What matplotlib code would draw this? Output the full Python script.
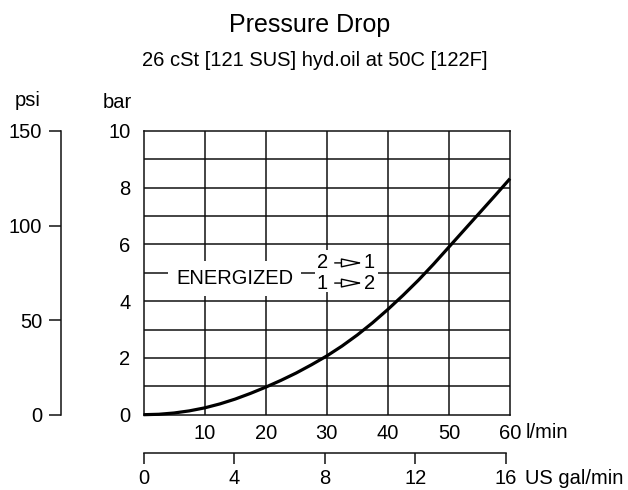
import numpy as np
import matplotlib.pyplot as plt

plt.rcParams['font.family'] = ['Liberation Sans', 'DejaVu Sans']

# curve: flow (l/min) vs pressure drop (bar)
flow_lpm = [0, 2.5, 5, 7.5, 10, 12.5, 15, 17.5, 20, 22.5, 25, 27.5, 30,
            32.5, 35, 37.5, 40, 42.5, 45, 47.5, 50, 52.5, 55, 57.5, 60]
dp_bar = [0, 0.015, 0.06, 0.135, 0.24, 0.38, 0.55, 0.75, 0.97, 1.21, 1.47, 1.76, 2.07,
          2.42, 2.81, 3.24, 3.71, 4.21, 4.74, 5.31, 5.91, 6.51, 7.11, 7.71, 8.32]

bar_ticks = [0, 2, 4, 6, 8, 10]
lpm_ticks = [10, 20, 30, 40, 50, 60]
psi_ticks = [0, 50, 100, 150]
gal_ticks = [0, 4, 8, 12, 16]

W, H = 628, 490
fs = 14.5
lw_grid = 1.1
col = '#111111'


def px_rect(x0, y0, x1, y1):
    # pixel box (top-left origin) -> figure fraction [l, b, w, h]
    return [x0 / W, 1 - y1 / H, (x1 - x0) / W, (y1 - y0) / H]


fig = plt.figure(figsize=(W / 100, H / 100), dpi=100)

# main bar / l/min chart
ax = fig.add_axes(px_rect(143.5, 131, 510, 414.7))
ax.set_xlim(0, 60)
ax.set_ylim(0, 10)
for y in range(1, 10):
    ax.axhline(y, color=col, lw=lw_grid, zorder=1)
for x in lpm_ticks[:-1]:
    ax.axvline(x, color=col, lw=lw_grid, zorder=1)
for s in ax.spines.values():
    s.set_linewidth(lw_grid)
    s.set_color(col)
ax.plot(flow_lpm, dp_bar, color='black', lw=2.3, zorder=4, clip_on=False,
        solid_capstyle='butt')
ax.set_yticks(bar_ticks)
ax.set_xticks(lpm_ticks)
ax.tick_params(axis='y', length=0, pad=9.5, labelsize=fs)
ax.tick_params(axis='x', length=0, pad=7, labelsize=fs)
fig.text(526 / W, 1 - 432 / H, 'l/min', fontsize=fs, ha='left', va='center')
fig.text(117 / W, 1 - 102 / H, 'bar', fontsize=fs, ha='center', va='center')

ax.text(14.9, 4.8, 'ENERGIZED', fontsize=fs, ha='center', va='center',
        bbox=dict(facecolor='white', edgecolor='none', pad=6), zorder=3)
ax.add_patch(plt.Rectangle((28.1, 4.32), 10.3, 1.5, facecolor='white',
                           edgecolor='none', zorder=2))
arrow = dict(arrowstyle='-|>,head_length=1.3,head_width=0.28', fc='white',
             ec='black', lw=1.0, shrinkA=0, shrinkB=0)
for y, a, b in [(5.35, '2', '1'), (4.64, '1', '2')]:
    ax.text(29.3, y, a, fontsize=fs, ha='center', va='center', zorder=3)
    ax.text(37.0, y, b, fontsize=fs, ha='center', va='center', zorder=3)
    ax.annotate('', xy=(35.9, y), xytext=(31.3, y), arrowprops=arrow, zorder=3)

# psi axis
ax2 = fig.add_axes(px_rect(61, 131, 62, 414.7))
ax2.set_ylim(0, 10 * 14.504)
ax2.set_xticks([])
for k in ['top', 'right', 'bottom']:
    ax2.spines[k].set_visible(False)
ax2.spines['left'].set_bounds(0, 150)
ax2.spines['left'].set_linewidth(lw_grid)
ax2.spines['left'].set_color(col)
ax2.set_yticks(psi_ticks)
ax2.tick_params(axis='y', direction='out', length=8.6, width=lw_grid,
                color=col, pad=5, labelsize=fs)
ax2.patch.set_visible(False)
fig.text(28 / W, 1 - 100 / H, 'psi', fontsize=fs, ha='center', va='center')

# US gal/min axis
ax3 = fig.add_axes(px_rect(143.5, 440, 505.7, 453))
ax3.set_xlim(0, 16)
ax3.set_yticks([])
for k in ['top', 'right', 'left']:
    ax3.spines[k].set_visible(False)
ax3.spines['bottom'].set_linewidth(lw_grid)
ax3.spines['bottom'].set_color(col)
ax3.set_xticks(gal_ticks)
ax3.tick_params(axis='x', direction='out', length=8.2, width=lw_grid,
                color=col, pad=3, labelsize=fs)
ax3.patch.set_visible(False)
fig.text(525 / W, 1 - 478 / H, 'US gal/min', fontsize=fs, ha='left', va='center')

fig.text(310 / W, 1 - 25 / H, 'Pressure Drop', fontsize=18, ha='center', va='center')
fig.text(315 / W, 1 - 61 / H, '26 cSt [121 SUS] hyd.oil at 50C [122F]',
         fontsize=fs, ha='center', va='center')

fig.savefig('out.png', dpi=100)
